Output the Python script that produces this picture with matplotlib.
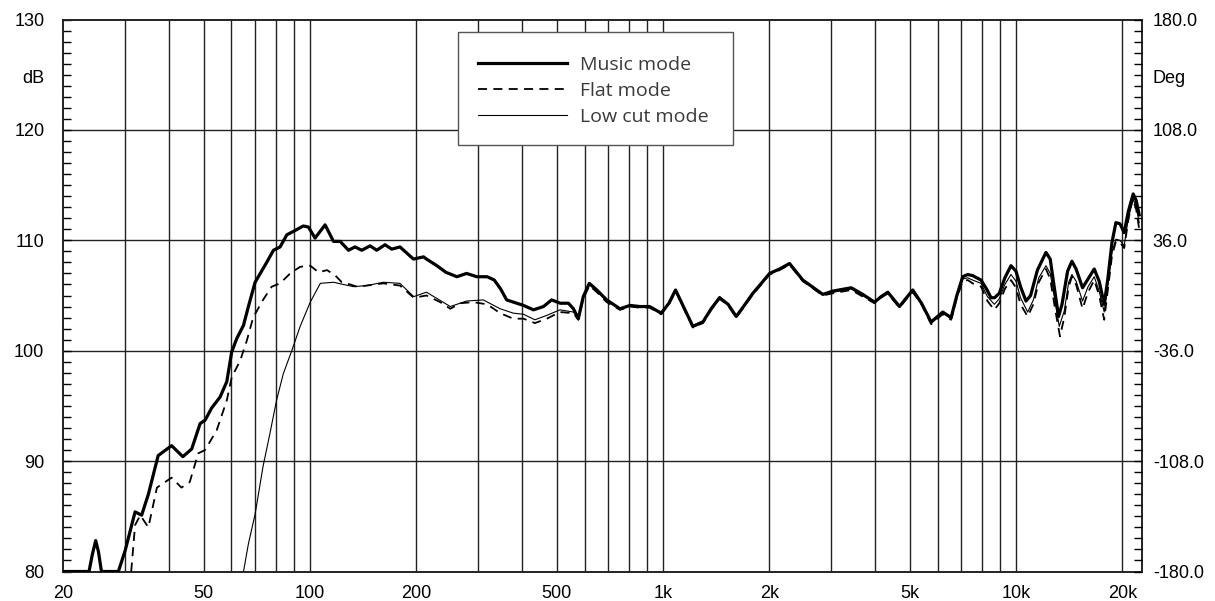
import matplotlib
matplotlib.use("Agg")
import matplotlib.pyplot as plt
from matplotlib.patches import Rectangle
from matplotlib.ticker import FixedLocator, MultipleLocator

# frequency response data (Hz, dB)
music_f = [20, 23.7, 24.2, 24.75, 25.2, 25.7, 28.7, 30.0, 32.0, 33.4, 34.9, 37.2,
           40.6, 43.7, 46.3, 48.9, 50.5, 52.7, 55.7, 58.2, 60.1, 62.1, 64.9, 67.0,
           70.0, 75.5, 78.9, 82.4, 86.1, 89.8, 95.9, 99.1, 103.5, 110.5, 116.7,
           121.9, 128.7, 134.3, 140.3, 148.2, 154.7, 163.3, 170.6, 180, 196.6, 210,
           214, 229, 243, 261, 278, 297, 318, 333, 347, 361, 377, 403, 430, 459,
           484, 512, 540, 558, 576,
           595, 619, 650, 693, 756, 807, 861, 917, 989, 1040, 1086, 1139, 1216,
           1298, 1370, 1447, 1530, 1613, 1700, 1798, 1900, 2005, 2140, 2284, 2490,
           2838, 3029, 3415, 3682, 3975, 4150, 4335, 4677, 4900, 5100, 5400, 5750,
           6202,
           6551, 6800, 7066, 7300, 7537, 7961, 8250, 8500, 8700, 8968, 9300, 9679,
           10000, 10300, 10674, 11000, 11500, 12158, 12500, 12800, 13199, 13500,
           14000, 14400, 14800, 15436, 16000, 16657, 17200, 17776, 18200, 18700,
           19183, 19700, 20249, 20800, 21474, 21900, 22334]
music_db = [80.0, 80.0, 81.5, 82.8, 81.8, 80.0, 80.0, 81.9, 85.4, 85.1, 87.0, 90.5,
            91.4, 90.4, 91.1, 93.4, 93.7, 94.8, 95.8, 97.2, 99.9, 101.1, 102.3, 104.0,
            106.2, 108.0, 109.1, 109.4, 110.5, 110.8, 111.3, 111.2, 110.2, 111.4, 109.9,
            109.9, 109.1, 109.4, 109.1, 109.5, 109.1, 109.6, 109.2, 109.4, 108.3, 108.5,
            108.3, 107.7, 107.1, 106.7, 107.0, 106.7, 106.7, 106.4, 105.6, 104.6, 104.4,
            104.1, 103.7, 104.0, 104.6, 104.3, 104.3, 103.8, 102.9,
            104.9, 106.1, 105.5, 104.6, 103.8, 104.1, 104.0, 104.0, 103.4, 104.3, 105.5,
            104.1, 102.2, 102.6, 103.8, 104.8, 104.2, 103.1, 104.1, 105.2, 106.1, 107.0,
            107.4, 107.9, 106.4, 105.1, 105.4, 105.7, 105.1, 104.4, 104.9, 105.3, 104.0,
            104.8, 105.5, 104.3, 102.6, 103.5,
            103.0, 105.0, 106.7, 106.9, 106.8, 106.4, 105.6, 104.8, 104.8, 105.2, 106.6,
            107.7, 107.2, 105.8, 104.5, 105.0, 107.3, 108.9, 108.3, 106.0, 103.1, 104.2,
            107.2, 108.1, 107.4, 105.7, 106.5, 107.4, 106.3, 104.2, 106.5, 109.8, 111.6,
            111.5, 110.7, 112.6, 114.2, 113.6, 112.3]

flat_f = [31.2, 32.0, 33.1, 34.9, 36.9, 40.6, 43.3, 45.7, 48.3, 50.5, 54.5, 58.2,
          60.1, 63.5, 66.3, 69.1, 73.7, 78.0, 82.4, 88.0, 93.9, 100.3, 105.9, 111.9,
          118.2, 123.2, 130.2, 135.8, 145, 161.6, 180, 197, 214, 234, 250, 267, 290,
          318, 346, 377, 403, 434, 469, 511, 558, 576,
          595, 619, 650, 693, 756, 807, 861, 917, 989, 1040, 1086, 1139, 1216,
          1298, 1370, 1447, 1530, 1613, 1700, 1798, 1900, 2005, 2140, 2284, 2490,
          2838, 3029, 3415, 3682, 3975, 4150, 4335, 4677, 4900, 5100, 5400, 5750,
          6202,
          6551, 6800, 7066, 7300, 7537, 7961, 8300, 8683, 8968, 9300, 9679, 10000,
          10300, 10790, 11200, 11600, 12158, 12500, 12900, 13321, 13700, 14100,
          14400, 14800, 15436, 16000, 16657, 17200, 17776, 18200, 18700, 19183,
          19700, 20249, 20800, 21380, 21900, 22334]
flat_db = [80.0, 84.2, 85.1, 84.0, 87.6, 88.5, 87.6, 88.1, 90.7, 91.0, 92.8, 95.5,
           97.6, 99.1, 100.9, 103.0, 104.6, 105.8, 106.1, 107.0, 107.6, 107.7, 107.1,
           107.3, 106.8, 106.2, 106.0, 105.8, 105.9, 106.1, 105.9, 104.8, 105.0, 104.4,
           103.8, 104.3, 104.4, 104.2, 103.4, 102.9, 102.9, 102.5, 102.9, 103.5, 103.4,
           102.8,
           104.7, 105.9, 105.3, 104.4, 103.7, 104.0, 103.9, 103.9, 103.3, 104.2, 105.4,
           104.0, 102.1, 102.5, 103.7, 104.7, 104.1, 103.0, 104.0, 105.1, 106.0, 106.9,
           107.3, 107.8, 106.3, 105.0, 105.2, 105.5, 104.9, 104.3, 104.8, 105.2, 103.9,
           104.7, 105.3, 104.2, 102.4, 103.3,
           102.8, 104.8, 106.3, 106.4, 106.1, 105.8, 104.5, 103.7, 104.3, 105.6, 106.4,
           105.7, 104.2, 103.1, 104.2, 106.2, 107.4, 106.5, 103.8, 101.3, 103.0, 105.8,
           106.7, 106.0, 103.8, 105.3, 106.4, 105.0, 102.8, 105.5, 108.6, 109.9, 109.8,
           109.3, 111.8, 113.8, 112.8, 111.0]

lowcut_f = [64.9, 67.0, 70.0, 73.7, 77.1, 80.5, 84.1, 88.9, 93.9, 100.3, 107.1,
            116.7, 124.5, 133, 145, 161.6, 180, 197, 214, 250, 278, 310, 346, 377,
            403, 434, 469, 511, 558, 576,
            595, 619, 650, 693, 756, 807, 861, 917, 989, 1040, 1086, 1139, 1216,
            1298, 1370, 1447, 1530, 1613, 1700, 1798, 1900, 2005, 2140, 2284, 2490,
            2838, 3029, 3415, 3682, 3975, 4150, 4335, 4677, 4900, 5100, 5400, 5750,
            6202,
            6551, 6800, 7066, 7300, 7537, 7961, 8300, 8683, 8968, 9300, 9679, 10000,
            10300, 10790, 11200, 11600, 12158, 12500, 12900, 13260, 13700, 14100,
            14400, 14800, 15436, 16000, 16657, 17200, 17776, 18200, 18700, 19183,
            19700, 20249, 20800, 21474, 21900, 22334]
lowcut_db = [80.0, 82.5, 85.2, 89.5, 92.5, 95.5, 97.9, 100.0, 102.2, 104.4, 106.1,
             106.2, 106.0, 105.8, 105.9, 106.2, 106.1, 104.9, 105.3, 104.0, 104.5,
             104.6, 103.8, 103.4, 103.3, 102.8, 103.2, 103.7, 103.5, 102.9,
             104.8, 106.0, 105.4, 104.5, 103.8, 104.1, 104.0, 104.0, 103.4, 104.3,
             105.5, 104.1, 102.3, 102.7, 103.8, 104.9, 104.2, 103.1, 104.1, 105.2,
             106.1, 107.0, 107.4, 107.9, 106.4, 105.1, 105.3, 105.6, 105.0, 104.4,
             104.9, 105.3, 104.0, 104.8, 105.4, 104.3, 102.5, 103.4,
             102.9, 104.9, 106.5, 106.6, 106.4, 106.1, 104.9, 104.2, 104.7, 106.0,
             106.9, 106.3, 104.8, 103.5, 104.6, 106.6, 107.7, 107.0, 104.5, 102.2,
             103.6, 106.2, 106.9, 106.3, 104.5, 105.8, 106.7, 105.4, 103.5, 106.0,
             108.9, 110.1, 110.0, 109.5, 112.0, 113.7, 113.0, 111.6]

grid_f = [30, 40, 50, 60, 70, 80, 90, 100, 200, 300, 400, 500, 600, 700, 800, 900,
          1000, 2000, 3000, 4000, 5000, 6000, 7000, 8000, 9000, 10000, 20000]
tick_f = [20, 50, 100, 200, 500, 1000, 2000, 5000, 10000, 20000]
tick_f_labels = ["20", "50", "100", "200", "500", "1k", "2k", "5k", "10k", "20k"]
db_ticks = [80, 90, 100, 110, 120, 130]
deg_ticks = [-180, -108, -36, 36, 108, 180]

plt.rcParams["font.family"] = ["Liberation Sans", "DejaVu Sans"]

W, H = 1215, 601
fig = plt.figure(figsize=(W / 100, H / 100), dpi=100)
L, R, T, B = 63, 1141.7, 19.5, 571.5
ax = fig.add_axes([L / W, 1 - B / H, (R - L) / W, (B - T) / H])

ax.set_xscale("log")
ax.set_xlim(20, 22700)
ax.set_ylim(80, 130)

for f in grid_f:
    ax.axvline(f, color="#222222", lw=1.0, zorder=1)
for d in db_ticks[1:-1]:
    ax.axhline(d, color="#222222", lw=1.0, zorder=1)

ax.plot(lowcut_f, lowcut_db, color="black", lw=0.8, zorder=3, label="Low cut mode")
ax.plot(flat_f, flat_db, color="black", lw=1.3, ls=(0, (5, 3.5)), zorder=3,
        label="Flat mode")
ax.plot(music_f, music_db, color="black", lw=2.3, zorder=4, label="Music mode")

ax.xaxis.set_major_locator(FixedLocator(tick_f))
ax.xaxis.set_minor_locator(FixedLocator([]))
ax.set_xticklabels(tick_f_labels)
ax.tick_params(axis="x", length=0, pad=10, labelsize=13)

ax.set_yticks(db_ticks)
ax.yaxis.set_minor_locator(MultipleLocator(1))
ax.tick_params(axis="y", which="both", direction="in", length=6, width=1,
               labelsize=13, pad=13.5)
ax.text(-19 / (R - L), 124.7, "dB", transform=ax.get_yaxis_transform(),
        ha="right", va="center", fontsize=13)

for s in ax.spines.values():
    s.set_linewidth(1.4)
    s.set_color("#222222")

ax2 = ax.twinx()
ax2.set_ylim(-180, 180)
ax2.set_yticks(deg_ticks)
ax2.set_yticklabels([f"{v:.1f}" for v in deg_ticks])
ax2.yaxis.set_minor_locator(MultipleLocator(7.2))
ax2.tick_params(axis="y", which="both", direction="in", length=6, width=1,
                labelsize=13, pad=8)
ax2.text(1 + 11 / (R - L), 124.7, "Deg", transform=ax.get_yaxis_transform(),
         ha="left", va="center", fontsize=13)
for s in ax2.spines.values():
    s.set_visible(False)

# legend box
fig.patches.append(Rectangle((458.3 / W, 1 - 145 / H), (733 - 458.3) / W,
                             (145 - 31.7) / H, transform=fig.transFigure,
                             facecolor="white", edgecolor="#555555", lw=1.0,
                             zorder=5))
handles, labels = ax.get_legend_handles_labels()
order = [2, 1, 0]
leg = fig.legend([handles[i] for i in order], [labels[i] for i in order],
                 loc="upper left", bbox_to_anchor=(478 / W, 1 - 55.5 / H),
                 frameon=False, handlelength=4.6,
                 handletextpad=0.67, labelspacing=0.42, borderpad=0,
                 borderaxespad=0, prop={"family": "Open Sans", "size": 14})
leg.set_zorder(6)
for t in leg.get_texts():
    t.set_color("#3a3a3a")

fig.savefig("out.png", dpi=100)
